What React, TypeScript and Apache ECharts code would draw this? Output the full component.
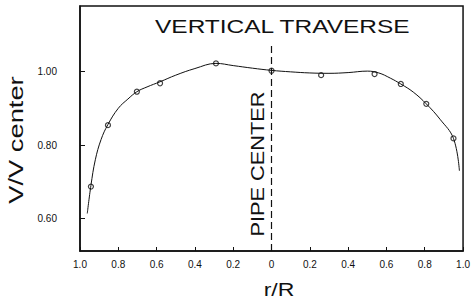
import React, { useEffect, useRef } from "react";
import * as echarts from "echarts";

// measured points (r/R, V/Vcenter); negative r/R = left half of the traverse
const pointR = [-0.943, -0.854, -0.703, -0.582, -0.29, 0, 0.259, 0.538, 0.675, 0.808, 0.95];
const pointV = [0.687, 0.854, 0.945, 0.968, 1.022, 1.002, 0.99, 0.993, 0.966, 0.912, 0.818];

// faired curve
const curveR = [-0.962, -0.943, -0.92, -0.89, -0.854, -0.8, -0.75, -0.703, -0.65, -0.582, -0.5, -0.4, -0.29, -0.2, -0.1, 0, 0.1, 0.2, 0.3, 0.4, 0.5, 0.56, 0.62, 0.675, 0.74, 0.808, 0.88, 0.95, 0.981];
const curveV = [0.614, 0.69, 0.76, 0.815, 0.856, 0.9, 0.925, 0.945, 0.958, 0.972, 0.99, 1.008, 1.022, 1.016, 1.009, 1.003, 0.999, 0.996, 0.995, 0.997, 1.001, 0.996, 0.982, 0.966, 0.944, 0.912, 0.87, 0.818, 0.73];

const yTicks = [0.6, 0.8, 1.0];
const titleText = "VERTICAL TRAVERSE";
const centerText = "PIPE CENTER";
const xName = "r/R";
const yName = "V/V center";

const FONT = "Liberation Sans, Arial, sans-serif";
const INK = "#111";

export default function App() {
  const ref = useRef<HTMLDivElement>(null);
  useEffect(() => {
    const chart = echarts.init(ref.current!, null, { renderer: "svg" });
    chart.setOption({
      animation: false,
      backgroundColor: "#fff",
      grid: {
        left: 80,
        right: 4,
        top: 6,
        bottom: 48,
        show: true,
        borderColor: INK,
        borderWidth: 1.5,
      },
      xAxis: {
        type: "value",
        min: -1,
        max: 1,
        interval: 0.2,
        axisLine: { onZero: false, lineStyle: { color: INK, width: 1.5 } },
        axisTick: { inside: true, length: 4, lineStyle: { color: INK } },
        splitLine: { show: false },
        axisLabel: {
          margin: 8,
          fontFamily: FONT,
          fontSize: 10,
          color: INK,
          formatter: (v: number) => {
            const a = Math.abs(v);
            return a < 1e-6 ? "0" : a.toFixed(1);
          },
        },
      },
      yAxis: {
        type: "value",
        min: 0.512,
        max: 1.178,
        axisLine: { onZero: false, lineStyle: { color: INK, width: 1.5 } },
        axisTick: { inside: true, length: 5, customValues: yTicks, lineStyle: { color: INK } },
        splitLine: { show: false },
        axisLabel: {
          margin: 23,
          customValues: yTicks,
          fontFamily: FONT,
          fontSize: 10,
          color: INK,
          formatter: (v: number) => v.toFixed(2),
        },
      },
      series: [
        {
          type: "line",
          data: curveR.map((r, i) => [r, curveV[i]]),
          smooth: 0.4,
          showSymbol: false,
          lineStyle: { color: INK, width: 1 },
          markLine: {
            silent: true,
            symbol: "none",
            label: { show: false },
            lineStyle: { color: INK, width: 1.2, type: [7, 4] },
            data: [[{ coord: [0, 0.512] }, { coord: [0, 1.076] }]],
          },
        },
        {
          type: "scatter",
          data: pointR.map((r, i) => [r, pointV[i]]),
          symbol: "circle",
          symbolSize: 5,
          itemStyle: { color: "#fff", borderColor: INK, borderWidth: 1.2 },
        },
      ],
      graphic: [
        {
          type: "text",
          x: 155,
          y: 27,
          scaleX: 1.36,
          style: {
            text: titleText,
            fontFamily: FONT,
            fontSize: 18,
            fill: INK,
            align: "left",
            verticalAlign: "middle",
          },
        },
        {
          type: "text",
          x: 258,
          y: 164,
          rotation: Math.PI / 2,
          scaleX: 1.21,
          style: {
            text: centerText,
            fontFamily: FONT,
            fontSize: 18,
            fill: INK,
            align: "center",
            verticalAlign: "middle",
          },
        },
        {
          type: "text",
          x: 16,
          y: 140,
          rotation: Math.PI / 2,
          scaleX: 1.3,
          style: {
            text: yName,
            fontFamily: FONT,
            fontSize: 21,
            fill: INK,
            align: "center",
            verticalAlign: "middle",
          },
        },
        {
          type: "text",
          x: 279,
          y: 289,
          scaleX: 1.28,
          style: {
            text: xName,
            fontFamily: FONT,
            fontSize: 18,
            fill: INK,
            align: "center",
            verticalAlign: "middle",
          },
        },
      ],
    });
    return () => chart.dispose();
  }, []);
  return <div ref={ref} style={{ width: 473, height: 299, position: "absolute", left: 0, top: 0 }} />;
}
